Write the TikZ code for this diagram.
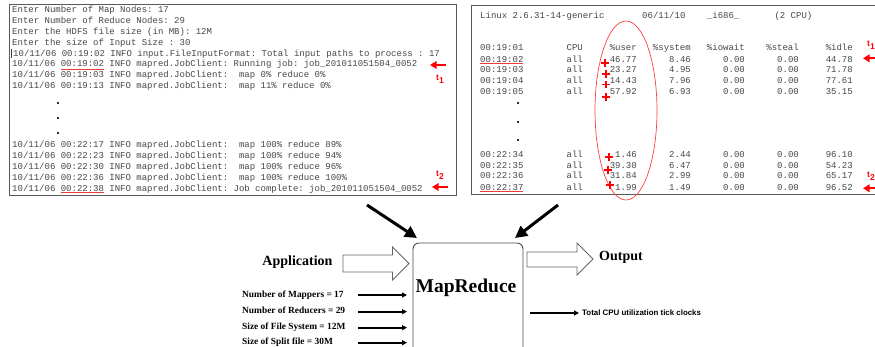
\documentclass[tikz,border=0pt]{standalone}
\usepackage{fontspec}
\setmainfont{Liberation Serif}
\setsansfont{Liberation Sans}
\setmonofont{Liberation Mono}
\usetikzlibrary{arrows.meta}
\definecolor{ulred}{RGB}{235,60,55}
\newlength\cw
\setlength\cw{5.4pt}
\newcommand\logfont{\fontsize{9}{10}\selectfont\ttfamily}
\newcommand\mrow[7]{\makebox[16\cw][l]{#1}\makebox[3\cw][l]{#2}\makebox[10\cw][r]{#3}\makebox[10\cw][r]{#4}\makebox[10\cw][r]{#5}\makebox[10\cw][r]{#6}\makebox[10\cw][r]{#7}}
\newcommand\tsub[1]{t\raisebox{-3pt}{#1}}
\begin{document}
\begin{tikzpicture}[x=1pt,y=-1pt,
  logline/.style={font=\logfont, text=black!72, inner sep=0pt, anchor=base west},
  logbox/.style={draw=black!65, line width=0.9pt},
  uline/.style={draw=ulred, line width=1pt},
  redarr/.style={draw=red, line width=2pt, -{Triangle[length=6.5pt,width=7.5pt]}},
  tlab/.style={text=red, font=\sffamily\bfseries\fontsize{8.5}{9}\selectfont, inner sep=0pt},
  plusmark/.style={draw=red, line width=1.3pt},
  dotmark/.style={fill=black!80, draw=none},
  bigarr/.style={draw=black, line width=3pt, -{Triangle[length=12pt,width=12pt]}},
  inarr/.style={draw=black, line width=1.6pt, -{Triangle[length=5pt,width=5pt]}},
  hollow/.style={draw=black!60, line width=0.9pt, fill=white},
  bigtxt/.style={font=\bfseries\fontsize{14}{16}\selectfont, inner sep=0pt},
  parlab/.style={font=\bfseries\fontsize{9.4}{11}\selectfont, inner sep=0pt, anchor=base west},
]
\useasboundingbox (0,0) rectangle (875,347);
\clip (0,0) rectangle (875,347);
\fill[white] (0,0) rectangle (875,347);

% ---------- left log box ----------
\draw[logbox] (9,4) rectangle (456,195);
\node[logline] (l1) at (12,12.5) {Enter Number of Map Nodes: 17};
\node[logline] (l2) at (12,23.4) {Enter Number of Reduce Nodes: 29};
\node[logline] (l3) at (12,34.3) {Enter the HDFS file size (in MB): 12M};
\node[logline] (l4) at (12,45.2) {Enter the size of Input Size : 30};
\node[logline] (l5) at (13,56.1) {10/11/06 00:19:02 INFO input.FileInputFormat: Total input paths to process : 17};
\node[logline] (l6) at (12,67.0) {10/11/06 00:19:02 INFO mapred.JobClient: Running job: job\_201011051504\_0052};
\node[logline] (l7) at (12,77.9) {10/11/06 00:19:03 INFO mapred.JobClient:~ map 0\% reduce 0\%};
\node[logline] (l8) at (12,88.8) {10/11/06 00:19:13 INFO mapred.JobClient:~ map 11\% reduce 0\%};
\node[logline] (l9) at (12,147.3) {10/11/06 00:22:17 INFO mapred.JobClient:~ map 100\% reduce 89\%};
\node[logline] (l10) at (12,158.3) {10/11/06 00:22:23 INFO mapred.JobClient:~ map 100\% reduce 94\%};
\node[logline] (l11) at (12,169.3) {10/11/06 00:22:30 INFO mapred.JobClient:~ map 100\% reduce 96\%};
\node[logline] (l12) at (12,180.3) {10/11/06 00:22:36 INFO mapred.JobClient:~ map 100\% reduce 100\%};
\node[logline] (l13) at (12,191.3) {10/11/06 00:22:38 INFO mapred.JobClient: Job complete: job\_201011051504\_0052};
\draw[black!75, line width=0.6pt] (11.5,49) -- (11.5,58);
\foreach \dy in {103,118,133} \fill[dotmark] (57,\dy-1) rectangle (59,\dy+1);
\draw[uline] (60.6,69.3) -- (103.8,69.3);
\draw[uline] (60.6,192.6) -- (103.8,192.6);
\coordinate (la1) at (446,65);  \coordinate (la1e) at (430,65);
\coordinate (la2) at (448,187); \coordinate (la2e) at (432,187);
\draw[redarr] (la1) -- (la1e);
\draw[redarr] (la2) -- (la2e);
\node[tlab] (lt1) at (440,79) {\tsub{1}};
\node[tlab] (lt2) at (440,175) {\tsub{2}};

% ---------- right log box ----------
\draw[logbox] (471,5) rectangle (885,194);
\node[logline] (rh) at (480,18.7) {\makebox[30\cw][l]{Linux 2.6.31-14-generic}\makebox[12\cw][l]{06/11/10}\makebox[12.5\cw][l]{\_i686\_}(2 CPU)};
\node[logline] (r0) at (480,51) {\mrow{00:19:01}{CPU}{\%user}{\%system}{\%iowait}{\%steal}{\%idle}};
\node[logline] (r1) at (480,62.2) {\mrow{00:19:02}{all}{46.77}{8.46}{0.00}{0.00}{44.78}};
\node[logline] (r2) at (480,72.9) {\mrow{00:19:03}{all}{23.27}{4.95}{0.00}{0.00}{71.78}};
\node[logline] (r3) at (480,83.6) {\mrow{00:19:04}{all}{14.43}{7.96}{0.00}{0.00}{77.61}};
\node[logline] (r4) at (480,94.3) {\mrow{00:19:05}{all}{57.92}{6.93}{0.00}{0.00}{35.15}};
\node[logline] (r5) at (480,157.3) {\mrow{00:22:34}{all}{1.46}{2.44}{0.00}{0.00}{96.10}};
\node[logline] (r6) at (480,168.3) {\mrow{00:22:35}{all}{39.30}{6.47}{0.00}{0.00}{54.23}};
\node[logline] (r7) at (480,179.0) {\mrow{00:22:36}{all}{31.84}{2.99}{0.00}{0.00}{65.17}};
\node[logline] (r8) at (480,190.3) {\mrow{00:22:37}{all}{1.99}{1.49}{0.00}{0.00}{96.52}};
\foreach \dy in {103,122,140} \fill[dotmark] (517,\dy-1) rectangle (519,\dy+1);
\draw[uline] (480,63.5) -- (523,63.5);
\draw[uline] (480,191.8) -- (523,191.8);
\draw[red!75, line width=0.7pt] (626,110.5) ellipse [x radius=31pt, y radius=89.5pt];
\foreach \px/\py in {605/63,606/74,606/84.5,606/97,609/157,608/170,610/185}
  \draw[plusmark] (\px-3.6,\py) -- (\px+3.6,\py) (\px,\py-3.6) -- (\px,\py+3.6);
\coordinate (ra1) at (880,58.3);  \coordinate (ra1e) at (863,58.3);
\coordinate (ra2) at (880,188.3); \coordinate (ra2e) at (863,188.3);
\draw[redarr] (ra1) -- (ra1e);
\draw[redarr] (ra2) -- (ra2e);
\node[tlab] (rt1) at (871,45) {\tsub{1}};
\node[tlab] (rt2) at (871,176) {\tsub{2}};

% ---------- MapReduce block ----------
\node[draw=black!70, line width=0.9pt, rounded corners=6pt, minimum width=110pt, minimum height=114pt, inner sep=0pt] (mr) at (468,300) {};
\node[font=\bfseries\fontsize{19.5}{22}\selectfont, inner sep=0pt, anchor=base] (mrt) at (466,292.5) {MapReduce};

\coordinate (d1) at (367,205); \coordinate (d1e) at (417,238);
\coordinate (d2) at (558,205); \coordinate (d2e) at (515,238);
\draw[bigarr] (d1) -- (d1e);
\draw[bigarr] (d2) -- (d2e);

\node[bigtxt, anchor=base] (app) at (297.5,265.5) {Application};
\draw[hollow] (343,255) -- (392.5,255) -- (392.5,247) -- (409,263.5) -- (392.5,280) -- (392.5,272) -- (343,272) -- cycle;
\draw[hollow] (527,252) -- (577,252) -- (577,243) -- (593,259) -- (577,275) -- (577,267) -- (527,267) -- cycle;
\node[bigtxt, anchor=base west] (out) at (599,261) {Output};

\node[parlab] (p1) at (242,297.4) {Number of Mappers = 17};
\node[parlab] (p2) at (242,313.1) {Number of Reducers = 29};
\node[parlab] (p3) at (242,329.8) {Size of File System = 12M};
\node[parlab] (p4) at (242,344.8) {Size of Split file = 30M};
\coordinate (i1) at (358,295);   \coordinate (i1e) at (407,295);
\coordinate (i2) at (358,311.7); \coordinate (i2e) at (407,311.7);
\coordinate (i3) at (358,327.7); \coordinate (i3e) at (407,327.7);
\coordinate (i4) at (358,342.7); \coordinate (i4e) at (407,342.7);
\draw[inarr] (i1) -- (i1e);
\draw[inarr] (i2) -- (i2e);
\draw[inarr] (i3) -- (i3e);
\draw[inarr] (i4) -- (i4e);

\coordinate (o1) at (530,313); \coordinate (o1e) at (579,313);
\draw[inarr, line width=1.4pt] (o1) -- (o1e);
\node[font=\sffamily\bfseries\fontsize{7.9}{9}\selectfont, inner sep=0pt, anchor=base west] (tot) at (582,315.8) {Total CPU utilization tick clocks};
\end{tikzpicture}
\end{document}
